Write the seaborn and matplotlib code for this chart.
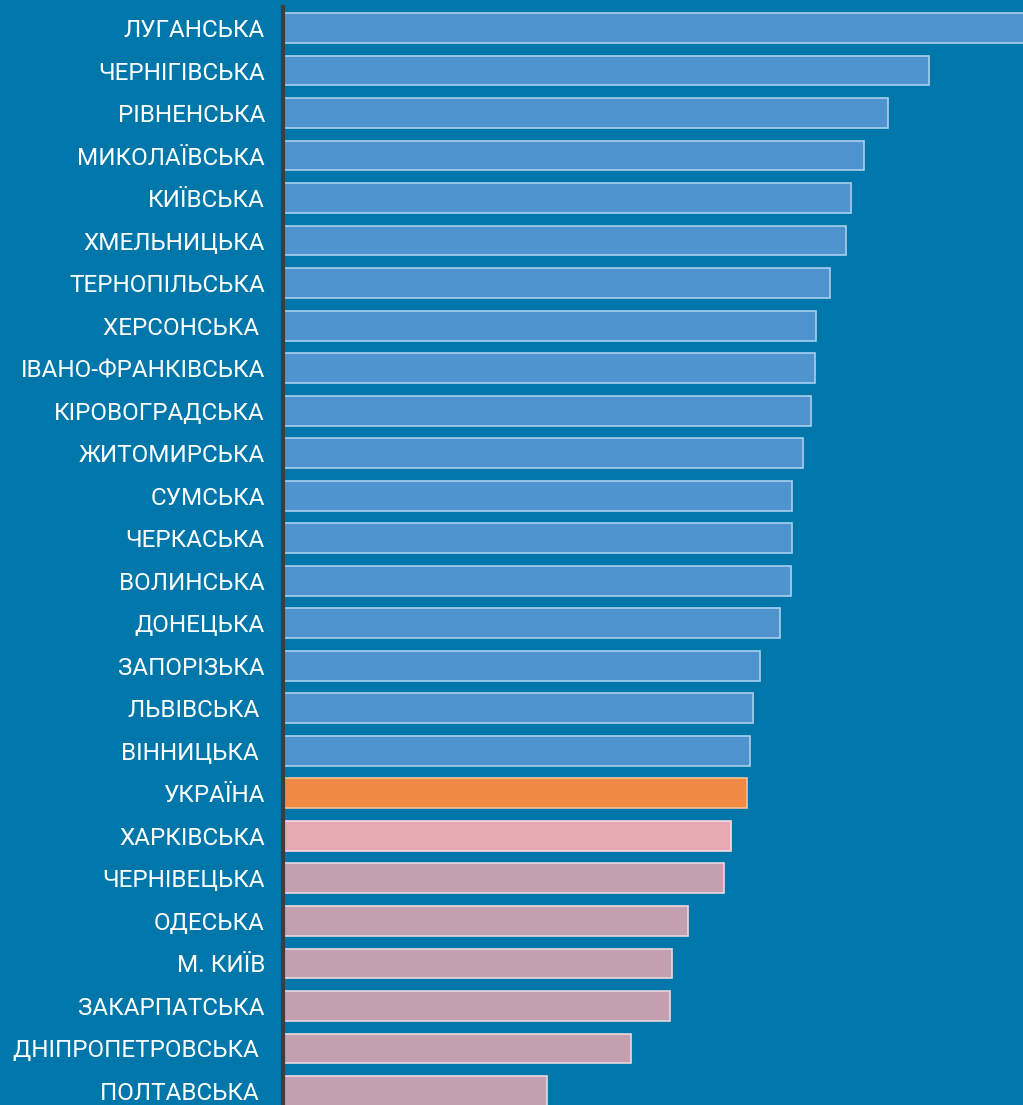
import numpy as np
import matplotlib
matplotlib.use('Agg')
import matplotlib.pyplot as plt
import seaborn as sns

regions = ['ЛУГАНСЬКА', 'ЧЕРНІГІВСЬКА', 'РІВНЕНСЬКА', 'МИКОЛАЇВСЬКА', 'КИЇВСЬКА',
           'ХМЕЛЬНИЦЬКА', 'ТЕРНОПІЛЬСЬКА', 'ХЕРСОНСЬКА ', 'ІВАНО-ФРАНКІВСЬКА',
           'КІРОВОГРАДСЬКА', 'ЖИТОМИРСЬКА', 'СУМСЬКА', 'ЧЕРКАСЬКА', 'ВОЛИНСЬКА',
           'ДОНЕЦЬКА', 'ЗАПОРІЗЬКА', 'ЛЬВІВСЬКА ', 'ВІННИЦЬКА ', 'УКРАЇНА',
           'ХАРКІВСЬКА', 'ЧЕРНІВЕЦЬКА', 'ОДЕСЬКА', 'М. КИЇВ', 'ЗАКАРПАТСЬКА',
           'ДНІПРОПЕТРОВСЬКА ', 'ПОЛТАВСЬКА ']
values = [750, 646, 605, 581, 568, 563, 547, 533, 532, 528, 520, 509, 509, 508,
          497, 477, 470, 467, 464, 448, 441, 405, 389, 387, 348, 264]
groups = ['blue'] * 18 + ['orange', 'pink'] + ['mauve'] * 6

fill = {'blue': '#4f94cf', 'orange': '#f08941', 'pink': '#e6a9b2', 'mauve': '#c3a0b0'}
edge = {'blue': '#a9d0ef', 'orange': '#f6c197', 'pink': '#f5dde2', 'mauve': '#ead8e0'}
bg = '#0077aa'

sns.set_style('white')
plt.rcParams['font.family'] = ['Roboto', 'DejaVu Sans']

fig = plt.figure(figsize=(10.23, 11.05), dpi=100, facecolor=bg)
ax = fig.add_axes([283 / 1023, 0, 1 - 283 / 1023, 1 - 7 / 1105])
ax.set_facecolor(bg)

sns.barplot(x=values, y=regions, hue=regions, palette=[fill[g] for g in groups],
            legend=False, width=0.7, ax=ax, saturation=1)
for bar, g in zip(ax.patches, groups):
    bar.set_edgecolor(edge[g])
    bar.set_linewidth(1.2)

ax.set_xlim(0, 740)
ax.set_ylim(25.33, -0.494)
ax.set_xticks([])
ax.set_xlabel('')
ax.set_ylabel('')
ax.tick_params(axis='y', length=0, pad=13, labelsize=17.5, labelcolor='white')
for s in ['top', 'right', 'bottom']:
    ax.spines[s].set_visible(False)
ax.spines['left'].set_color('#3d3d3d')
ax.spines['left'].set_linewidth(3)

fig.savefig('out.png', dpi=100, facecolor=bg)
